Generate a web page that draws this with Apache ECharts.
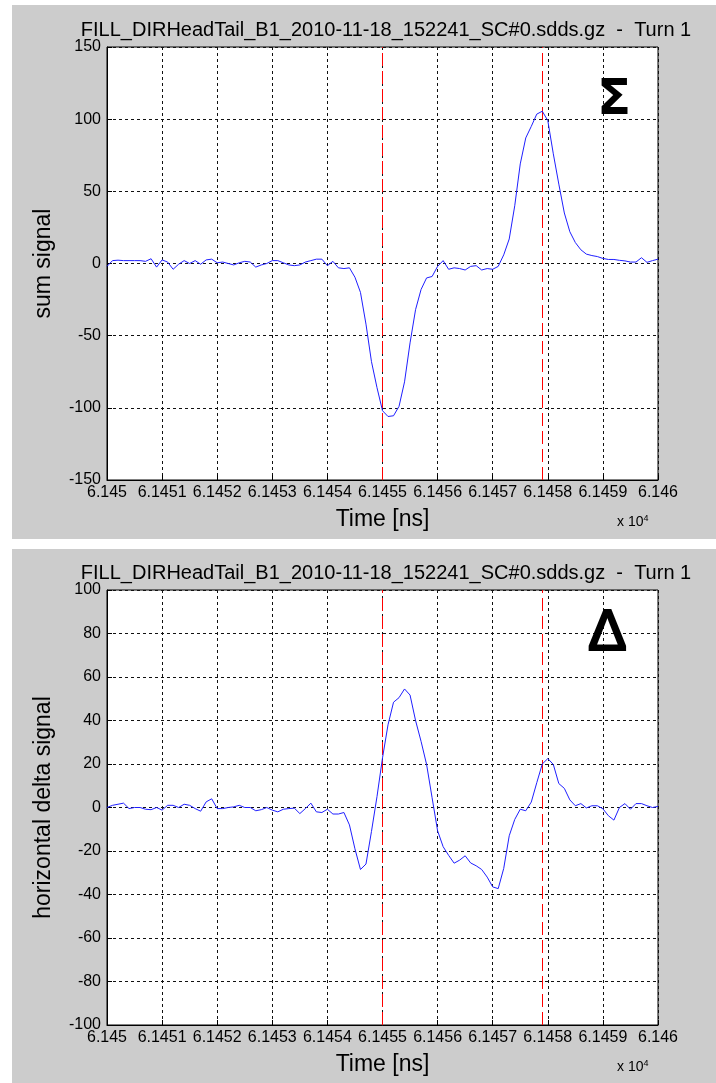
<!DOCTYPE html>
<html>
<head>
<meta charset="utf-8">
<script src="https://cdn.jsdelivr.net/npm/echarts@6/dist/echarts.min.js"></script>
<style>
  html, body { margin: 0; padding: 0; background: #fff; }
  #chart { width: 716px; height: 1083px; }
</style>
</head>
<body>
<div id="chart"></div>
<script>
// sample times [ns]
var times = [
  61450.0, 61450.1, 61450.2, 61450.3, 61450.4, 61450.5, 61450.6, 61450.7, 61450.8, 61450.9,
  61451.0, 61451.1, 61451.2, 61451.3, 61451.4, 61451.5, 61451.6, 61451.7, 61451.8, 61451.9,
  61452.0, 61452.1, 61452.2, 61452.3, 61452.4, 61452.5, 61452.6, 61452.7, 61452.8, 61452.9,
  61453.0, 61453.1, 61453.2, 61453.3, 61453.4, 61453.5, 61453.6, 61453.7, 61453.8, 61453.9,
  61454.0, 61454.1, 61454.2, 61454.3, 61454.4, 61454.5, 61454.6, 61454.7, 61454.8, 61454.9,
  61455.0, 61455.1, 61455.2, 61455.3, 61455.4, 61455.5, 61455.6, 61455.7, 61455.8, 61455.9,
  61456.0, 61456.1, 61456.2, 61456.3, 61456.4, 61456.5, 61456.6, 61456.7, 61456.8, 61456.9,
  61457.0, 61457.1, 61457.2, 61457.3, 61457.4, 61457.5, 61457.6, 61457.7, 61457.8, 61457.9,
  61458.0, 61458.1, 61458.2, 61458.3, 61458.4, 61458.5, 61458.6, 61458.7, 61458.8, 61458.9,
  61459.0, 61459.1, 61459.2, 61459.3, 61459.4, 61459.5, 61459.6, 61459.7, 61459.8, 61459.9,
  61460.0
];

// sum signal
var sumSignal = [
  -2, 2, 2.3, 2, 2, 2, 2, 1.5, 3.3, -2.5,
  2.5, 1, -4, -0.5, 2, 0, 2, -0.5, 2.5, 3,
  0.5, 1, 0, -1, 0.5, 1.5, 1, -2.5, -1, 0,
  2, 2, 0.5, -1, -1.5, -1, 1, 2, 3, 3,
  -1.5, 1.5, -3, -3.5, -3, -9.5, -20, -42, -68, -86,
  -102, -106, -105.5, -99, -82, -55, -32, -18, -10, -9,
  -2, 2, -4, -3, -3.5, -4.5, -2, -1.5, -4.5, -3.5,
  -4, -2, 6, 17, 40, 69, 87, 95, 103.5, 105.5,
  99, 76, 55, 35, 22, 14.5, 9.5, 6.5, 5.5, 4.8,
  3.5, 2.8, 2.8, 2.2, 1.8, 1, 1, 4, 0.8, 2,
  3
];

// horizontal delta signal
var deltaSignal = [
  0, 1, 1.5, 2, -0.5, 0, 0, -0.8, -1, 0,
  -1.2, 1, 1, 0, 1.5, 1, -0.5, -1.7, 2.6, 4,
  -0.5, -0.5, 0, 0.3, 1, 0, 0, -1.5, -1, 0,
  -1.2, -2, -0.8, -0.5, -0.3, -2.8, -0.5, 2, -2, -2.3,
  -0.8, -3, -3, -2.3, -8, -19, -28.5, -26, -11, 5,
  22.8, 38, 48.4, 50.5, 54.5, 51.7, 40, 30.4, 19.8, 4.5,
  -10.7, -18, -22, -25.6, -24.2, -22.2, -25.5, -26.8, -28.5, -32,
  -36.5, -37.3, -28, -13, -5.5, -0.8, -1.5, 2.5, 11.4, 20,
  22.5, 19.8, 11, 8.8, 3.5, 0.8, 1.8, -0.2, 0.8, 0.8,
  -0.6, -3.8, -5.8, 0, 1.8, -0.8, 1.8, 1.8, 0.8, 0,
  0.5
];

// red marker lines [ns]
var markerTimes = [61455.0, 61457.9];

var fileTitle = 'FILL_DIRHeadTail_B1_2010-11-18_152241_SC#0.sdds.gz  -  Turn 1';

function pairs(xs, ys) {
  return xs.map(function (x, i) { return [x, ys[i]]; });
}

var font = '"Liberation Sans", Arial, sans-serif';

function xAxisCfg(gridIndex) {
  return {
    type: 'value', gridIndex: gridIndex,
    min: 61450, max: 61460, interval: 1,
    name: 'Time [ns]', nameLocation: 'middle', nameGap: 28,
    nameTextStyle: { fontFamily: font, fontSize: 23, color: '#000' },
    axisLine: { show: true, onZero: false, lineStyle: { color: '#000', width: 1 } },
    axisTick: { show: true, inside: true, length: 5, lineStyle: { color: '#000' } },
    axisLabel: {
      margin: 5, fontFamily: font, fontSize: 16, color: '#000',
      formatter: function (v) { return String(parseFloat((v / 1e4).toFixed(4))); }
    },
    splitLine: { show: true, lineStyle: { color: '#111', type: [3, 3], width: 1 } }
  };
}

function yAxisCfg(gridIndex, min, max, interval, name) {
  return {
    type: 'value', gridIndex: gridIndex,
    min: min, max: max, interval: interval,
    name: name, nameLocation: 'middle', nameGap: 52,
    nameTextStyle: { fontFamily: font, fontSize: 23, color: '#000' },
    axisLine: { show: true, lineStyle: { color: '#000', width: 1 } },
    axisTick: { show: true, inside: true, length: 5, lineStyle: { color: '#000' } },
    axisLabel: { margin: 6, fontFamily: font, fontSize: 16, color: '#000' },
    splitLine: { show: true, lineStyle: { color: '#111', type: [3, 3], width: 1 } }
  };
}

function markers() {
  return {
    silent: true, symbol: ['none', 'none'], label: { show: false },
    lineStyle: { color: '#ff0000', type: [13, 5], width: 1 },
    data: markerTimes.map(function (t) { return { xAxis: t }; })
  };
}

var chart = echarts.init(document.getElementById('chart'), null, { renderer: 'canvas' });

chart.setOption({
  animation: false,
  backgroundColor: '#ffffff',
  graphic: [
    { type: 'rect', z: -10, shape: { x: 12, y: 5, width: 704, height: 534 }, style: { fill: '#cccccc' } },
    { type: 'rect', z: -10, shape: { x: 12, y: 549, width: 704, height: 534 }, style: { fill: '#cccccc' } },
    { type: 'text', z: 100, left: 597, top: 76, style: { text: 'Σ', font: 'bold 50px "DejaVu Sans", sans-serif', fill: '#000' } },
    { type: 'text', z: 100, left: 587, top: 604, style: { text: 'Δ', font: 'normal 58px "Liberation Sans", sans-serif',
        fill: '#000', stroke: '#000', lineWidth: 2.2 } },
    { type: 'text', left: 617, top: 514, style: { text: 'x 10{s|4}', font: '14px ' + font, fill: '#000',
        rich: { s: { fontSize: 9, verticalAlign: 'top', padding: [0, 0, 8, 0] } } } },
    { type: 'text', left: 617, top: 1059, style: { text: 'x 10{s|4}', font: '14px ' + font, fill: '#000',
        rich: { s: { fontSize: 9, verticalAlign: 'top', padding: [0, 0, 8, 0] } } } }
  ],
  title: [
    { text: fileTitle, left: 381, top: 15, textAlign: 'center',
      textStyle: { fontFamily: font, fontSize: 20, fontWeight: 'normal', color: '#000' } },
    { text: fileTitle, left: 381, top: 558, textAlign: 'center',
      textStyle: { fontFamily: font, fontSize: 20, fontWeight: 'normal', color: '#000' } }
  ],
  grid: [
    { left: 107, top: 47, width: 551, height: 433, show: true, backgroundColor: '#ffffff', borderColor: '#000', borderWidth: 1 },
    { left: 107, top: 590, width: 551, height: 435, show: true, backgroundColor: '#ffffff', borderColor: '#000', borderWidth: 1 }
  ],
  xAxis: [xAxisCfg(0), xAxisCfg(1)],
  yAxis: [
    yAxisCfg(0, -150, 150, 50, 'sum signal'),
    yAxisCfg(1, -100, 100, 20, 'horizontal delta signal')
  ],
  series: [
    {
      type: 'line', xAxisIndex: 0, yAxisIndex: 0,
      data: pairs(times, sumSignal), showSymbol: false,
      lineStyle: { color: '#1f1fff', width: 1 }, z: 5,
      markLine: markers()
    },
    {
      type: 'line', xAxisIndex: 1, yAxisIndex: 1,
      data: pairs(times, deltaSignal), showSymbol: false,
      lineStyle: { color: '#1f1fff', width: 1 }, z: 5,
      markLine: markers()
    }
  ]
});
</script>
</body>
</html>
